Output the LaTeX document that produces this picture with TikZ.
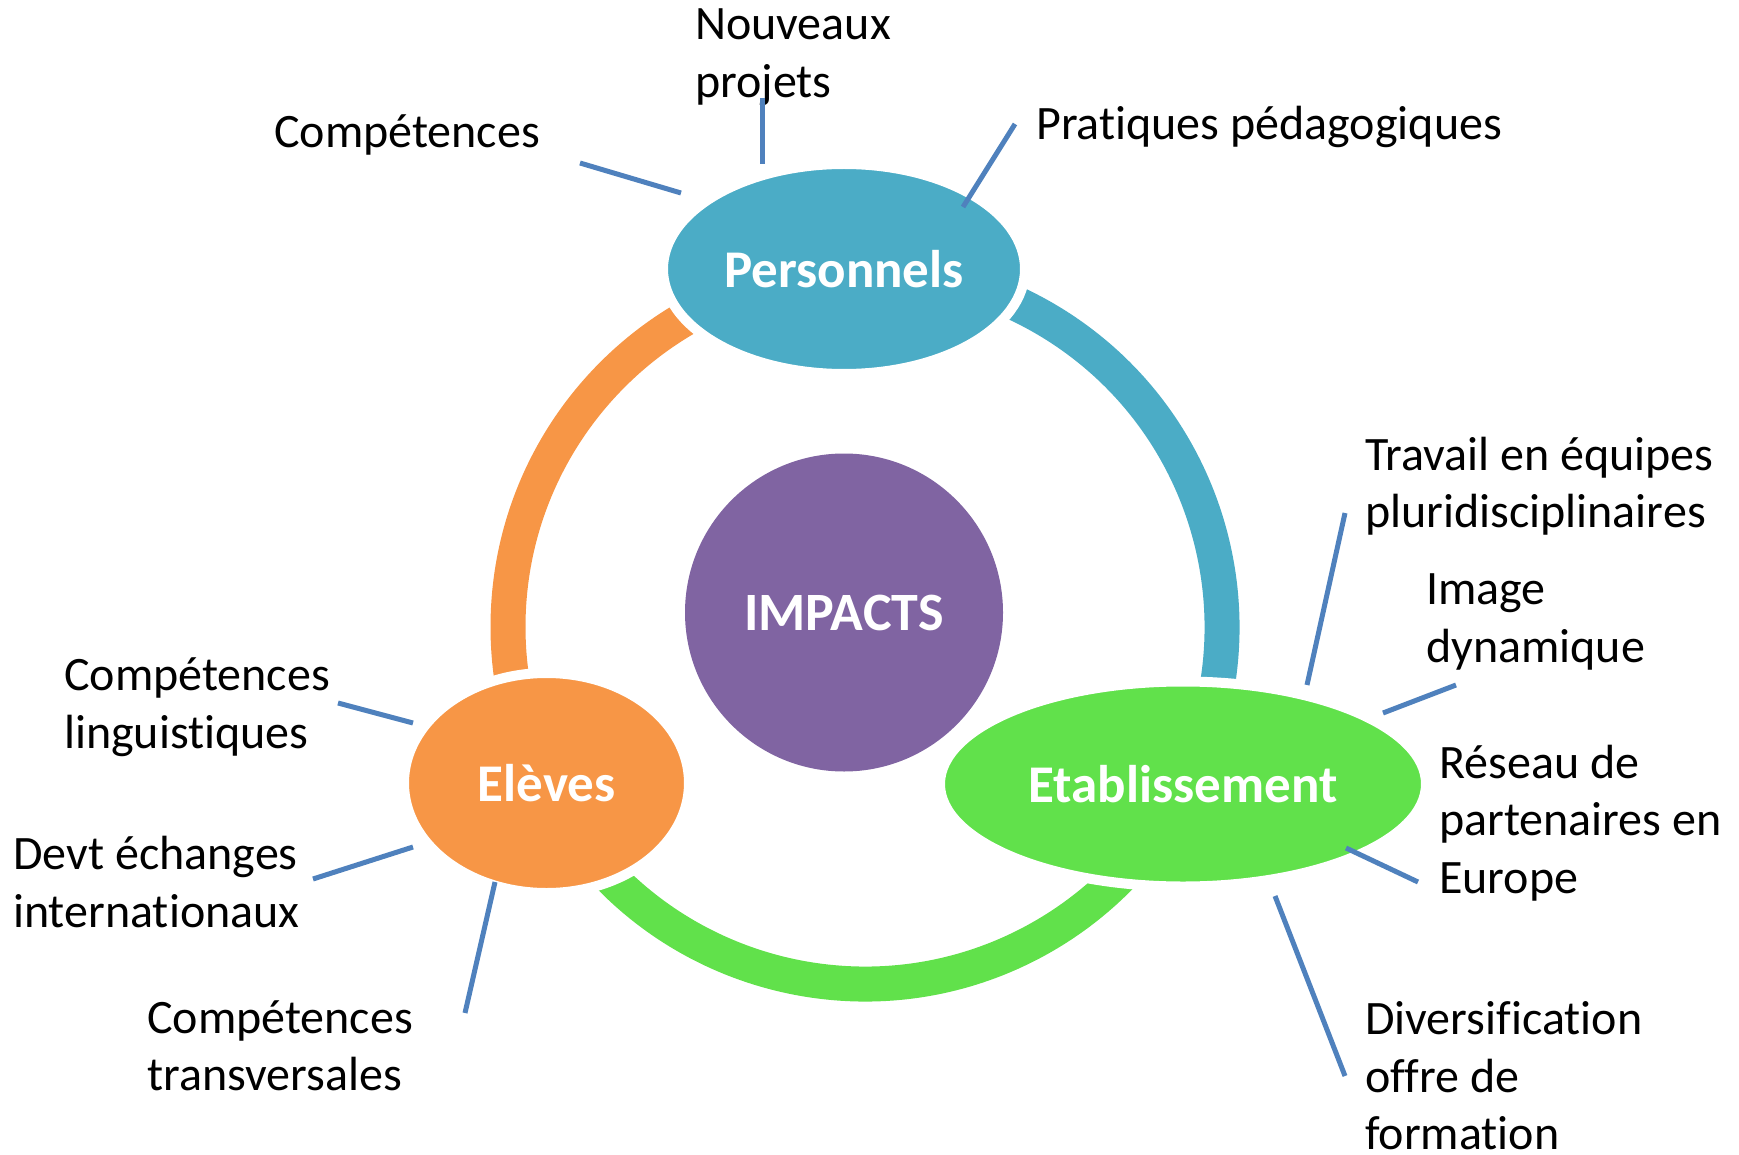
\documentclass[tikz,border=0pt]{standalone}
\usepackage{fontspec}
\setmainfont{Carlito}[Ligatures=NoCommon]
\usetikzlibrary{shapes.geometric}
\definecolor{bleuP}{HTML}{4BACC6}
\definecolor{orangeE}{HTML}{F79646}
\definecolor{vertE}{HTML}{61E14B}
\definecolor{violetI}{HTML}{8064A2}
\definecolor{trait}{HTML}{4F81BD}
\tikzset{
  bulle/.style={ellipse, draw=white, line width=10pt, text=white, inner sep=0pt,
    font=\fontsize{53}{60}\selectfont\bfseries},
  txt/.style={anchor=west, align=left, inner sep=0pt, font=\fontsize{48}{57.5}\selectfont},
  rayon/.style={trait, line width=5pt},
  anneau/.style={line width=35pt}
}
\begin{document}
\begin{tikzpicture}[x=1pt, y=-1pt, line cap=butt]
			\useasboundingbox (0,0) rectangle (1739,1155);
			% L'anneau en trois arcs
			\coordinate (C) at (865,627);
			\draw[anneau, orangeE] (C) ++(-90:357) arc[start angle=-90, end angle=-210, radius=357];
			\draw[anneau, bleuP] (C) ++(30:357) arc[start angle=30, end angle=-90, radius=357];
			\draw[anneau, vertE] (C) ++(150:357) arc[start angle=150, end angle=30, radius=357];
			% Les bulles
			\node[bulle, fill=bleuP, minimum width=362pt, minimum height=210pt] (pers) at (844,269) {Personnels};
			\node[bulle, fill=orangeE, minimum width=285pt, minimum height=220pt] (eleves) at (546.5,783) {Elèves};
			\node[bulle, fill=vertE, minimum width=486pt, minimum height=205pt] (etab) at (1183,784) {Etablissement};
			\node[circle, fill=violetI, text=white, minimum size=318pt, inner sep=0pt,
			      font=\fontsize{54}{60}\selectfont\bfseries] (impacts) at (844,612.5) {IMPACTS};
			% Textes autour de Personnels
			\node[txt] (nouv) at (695,57) {Nouveaux\\projets};
			\node[txt] (comp) at (274,135) {Compétences};
			\node[txt] (prat) at (1036,127) {Pratiques pédagogiques};
			% Textes autour de Etablissement
			\node[txt] (trav) at (1365,486) {Travail en équipes\\pluridisciplinaires};
			\node[txt] (img) at (1426,622) {Image\\dynamique};
			\node[txt] (res) at (1439,823) {Réseau de\\partenaires en\\Europe};
			\node[txt] (div) at (1365,1076) {Diversification\\offre de\\formation};
			% Textes autour de Elèves
			\node[txt] (ling) at (64,707) {Compétences\\linguistiques};
			\node[txt] (devt) at (13,882) {Devt échanges\\internationaux};
			\node[txt] (transv) at (147,1046) {Compétences\\transversales};
			% Extrémités des traits
			\coordinate (comp-a) at (580,163);   \coordinate (comp-b) at (681,193);
			\coordinate (nouv-a) at (762,98);    \coordinate (nouv-b) at (762,164);
			\coordinate (prat-a) at (1015,124);  \coordinate (prat-b) at (963,207);
			\coordinate (trav-a) at (1345,513);  \coordinate (trav-b) at (1307,685);
			\coordinate (img-a) at (1456,685);   \coordinate (img-b) at (1383,713);
			\coordinate (res-a) at (1418,882);   \coordinate (res-b) at (1346,848);
			\coordinate (div-a) at (1345,1076);  \coordinate (div-b) at (1275,896);
			\coordinate (ling-a) at (338,703);   \coordinate (ling-b) at (413,723);
			\coordinate (devt-a) at (313,879);   \coordinate (devt-b) at (413,847);
			\coordinate (transv-a) at (465,1013); \coordinate (transv-b) at (495,882);
			% Les traits
			\foreach \t in {comp,nouv,prat,trav,img,res,div,ling,devt,transv}
				\draw[rayon] (\t-a) -- (\t-b);
\end{tikzpicture}
\end{document}
